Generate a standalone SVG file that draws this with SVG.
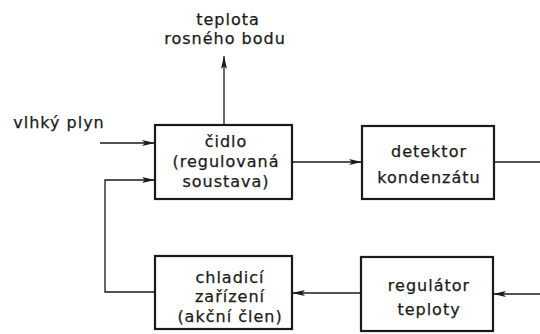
<svg xmlns="http://www.w3.org/2000/svg" width="540" height="334" viewBox="0 0 540 334">
<style>
.box{fill:#fff;stroke:#1a1a1a;stroke-width:2.2}
.ln{fill:none;stroke:#1a1a1a;stroke-width:1.3}
text{font-family:"DejaVu Sans",sans-serif;font-size:16px;letter-spacing:1px;fill:#1a1a1a;text-anchor:middle;stroke:#1a1a1a;stroke-width:0.25}
</style>
<defs>
<marker id="ah" viewBox="0 0 13 7" refX="13" refY="3.5" markerWidth="13" markerHeight="7" markerUnits="userSpaceOnUse" orient="auto">
<path d="M0,0.5 L13,3.5 L0,6.5 L3,3.5 Z" fill="#1a1a1a"/>
</marker>
</defs>
<rect width="540" height="334" fill="#fff"/>
<g id="connectors">
<line class="ln" x1="224" y1="125" x2="224" y2="56" marker-end="url(#ah)"/>
<line class="ln" x1="100" y1="143" x2="155" y2="143" marker-end="url(#ah)"/>
<polyline class="ln" points="155,292 105,292 105,180 155,180" marker-end="url(#ah)"/>
<line class="ln" x1="292" y1="162" x2="362" y2="162" marker-end="url(#ah)"/>
<line class="ln" x1="494" y1="162" x2="540" y2="162"/>
<line class="ln" x1="540" y1="294" x2="493" y2="294" marker-end="url(#ah)"/>
<line class="ln" x1="361" y1="293" x2="292" y2="293" marker-end="url(#ah)"/>
</g>
<g id="label-out">
<text x="228" y="25">teplota</text>
<text x="225" y="44">rosného bodu</text>
</g>
<g id="label-in">
<text x="59" y="128">vlhký plyn</text>
</g>
<g id="cidlo">
<rect class="box" x="155" y="125" width="137" height="74"/>
<text x="226" y="147">čidlo</text>
<text x="226" y="167">(regulovaná</text>
<text x="226" y="187">soustava)</text>
</g>
<g id="detektor">
<rect class="box" x="362" y="126" width="132" height="73"/>
<text x="429" y="157">detektor</text>
<text x="429" y="183">kondenzátu</text>
</g>
<g id="chladici">
<rect class="box" x="155" y="256" width="137" height="73"/>
<text x="230" y="283">chladicí</text>
<text x="230" y="302">zařízení</text>
<text x="230" y="322">(akční člen)</text>
</g>
<g id="regulator">
<rect class="box" x="361" y="257" width="132" height="74"/>
<text x="429" y="291">regulátor</text>
<text x="429" y="315">teploty</text>
</g>
</svg>
